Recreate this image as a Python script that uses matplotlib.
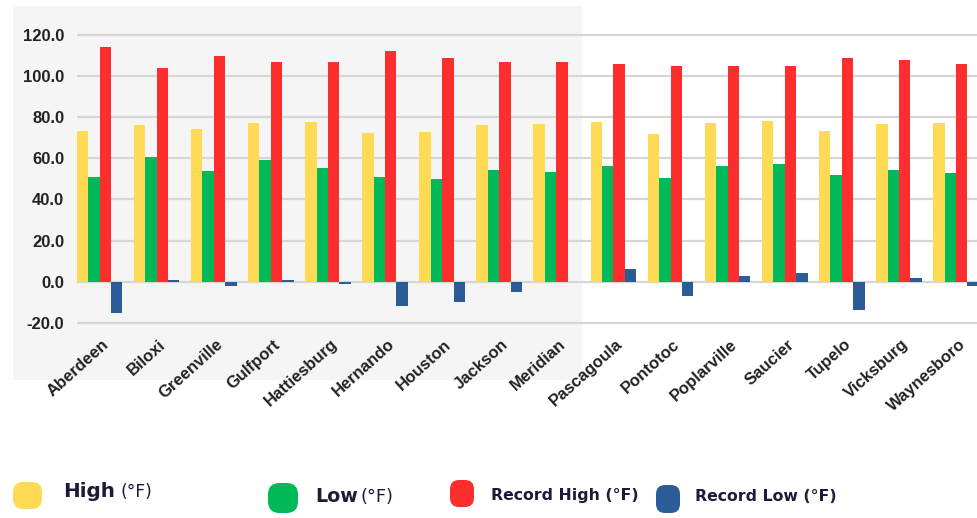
import matplotlib
matplotlib.use("Agg")
import matplotlib.pyplot as plt
import matplotlib.transforms as mtransforms
from matplotlib.patches import FancyBboxPatch, Rectangle
import numpy as np

cities = ["Aberdeen", "Biloxi", "Greenville", "Gulfport", "Hattiesburg", "Hernando",
          "Houston", "Jackson", "Meridian", "Pascagoula", "Pontotoc", "Poplarville",
          "Saucier", "Tupelo", "Vicksburg", "Waynesboro"]
high = [73.5, 76.2, 74.1, 77.0, 77.8, 72.5, 72.8, 76.4, 76.7, 77.7, 71.8, 77.3, 78.2, 73.3, 76.7, 77.3]
low = [51.1, 60.6, 53.7, 59.2, 55.2, 51.1, 49.8, 54.2, 53.2, 56.3, 50.6, 56.1, 57.4, 52.0, 54.2, 52.9]
record_high = [114, 104, 110, 107, 107, 112, 109, 107, 107, 106, 105, 105, 105, 109, 108, 106]
record_low = [-15, 1, -2, 1, -1, -12, -10, -5, 0, 6, -7, 3, 4, -14, 2, -2]
yticks = [-20, 0, 20, 40, 60, 80, 100, 120]

series = [("High", high, "#FFDA55"), ("Low", low, "#00BA59"),
          ("Record High", record_high, "#FE2E2E"), ("Record Low", record_low, "#2B5C98")]

W, H = 977, 518
fig = plt.figure(figsize=(W / 100, H / 100), dpi=100)
fig.patch.set_facecolor("white")

# light grey panel behind the left part of the chart
fig.patches.append(Rectangle((13 / W, 1 - 380 / H), (582 - 13) / W, (380 - 6) / H,
                             transform=fig.transFigure, facecolor="#f5f5f5",
                             edgecolor="none", zorder=-5))

ax = fig.add_axes([76.7 / W, 1 - 326.9 / H, (990.3 - 76.7) / W, (326.9 - 30.9) / H])
ax.set_zorder(1)
ax.set_facecolor("none")
x = np.arange(len(cities))
bw = 0.2
for k, (name, vals, col) in enumerate(series):
    ax.bar(x + (k - 1.5) * bw, vals, width=bw, color=col, zorder=3, linewidth=0)

ax.set_xlim(-0.4, 15.6)
ax.set_ylim(-22, 122)
ax.set_yticks(yticks)
ax.set_yticklabels([f"{v:.1f}" for v in yticks], fontfamily="Liberation Sans",
                   fontweight="bold", fontsize=12, color="#222222")
ax.yaxis.grid(True, color="#d6d6d6", linewidth=1.6, zorder=1)
ax.tick_params(axis="y", length=0, pad=9.0)
ax.tick_params(axis="x", length=0, pad=7)
ax.set_xticks(x)
ax.set_xticklabels(cities, rotation=42, ha="right", va="top", rotation_mode="anchor",
                   fontfamily="Liberation Sans", fontweight="bold", fontsize=12,
                   color="#222222")
off = mtransforms.ScaledTranslation(2 / 100, 0, fig.dpi_scale_trans)
for lab in ax.get_xticklabels():
    lab.set_transform(lab.get_transform() + off)
for s in ax.spines.values():
    s.set_visible(False)

# legend drawn in pixel coordinates
lg = fig.add_axes([0, 0, 1, 1], zorder=5)
lg.set_xlim(0, W)
lg.set_ylim(H, 0)
lg.axis("off")
lg.patch.set_alpha(0)

markers = [(13, 482, 29, 27), (268, 483, 30, 30), (450, 480, 24, 27), (656, 485, 24, 28)]
for (mx, my, mw, mh), (_, _, col) in zip(markers, series):
    lg.add_patch(FancyBboxPatch((mx, my), mw, mh,
                                boxstyle=f"round,pad=0,rounding_size={min(mw, mh) * 0.38}",
                                facecolor=col, edgecolor="none"))

txtcol = "#1d1b3a"
fig.canvas.draw()
renderer = fig.canvas.get_renderer()


def fit_text(xl, xr, yb, s, weight):
    t = lg.text(xl, yb, s, fontfamily="DejaVu Sans", fontweight=weight, fontsize=10,
                color=txtcol, ha="left", va="baseline")
    w = t.get_window_extent(renderer).width
    t.set_fontsize(10 * (xr - xl) / w)
    return t


fit_text(63, 115, 497, "High", "bold")
fit_text(120, 152, 497, "(°F)", "normal")
fit_text(315, 358, 502, "Low", "bold")
fit_text(360, 393, 502, "(°F)", "normal")
fit_text(491, 638, 500, "Record High (°F)", "bold")
fit_text(695, 837, 501, "Record Low (°F)", "bold")

fig.savefig("out.png", dpi=100, facecolor="white")
